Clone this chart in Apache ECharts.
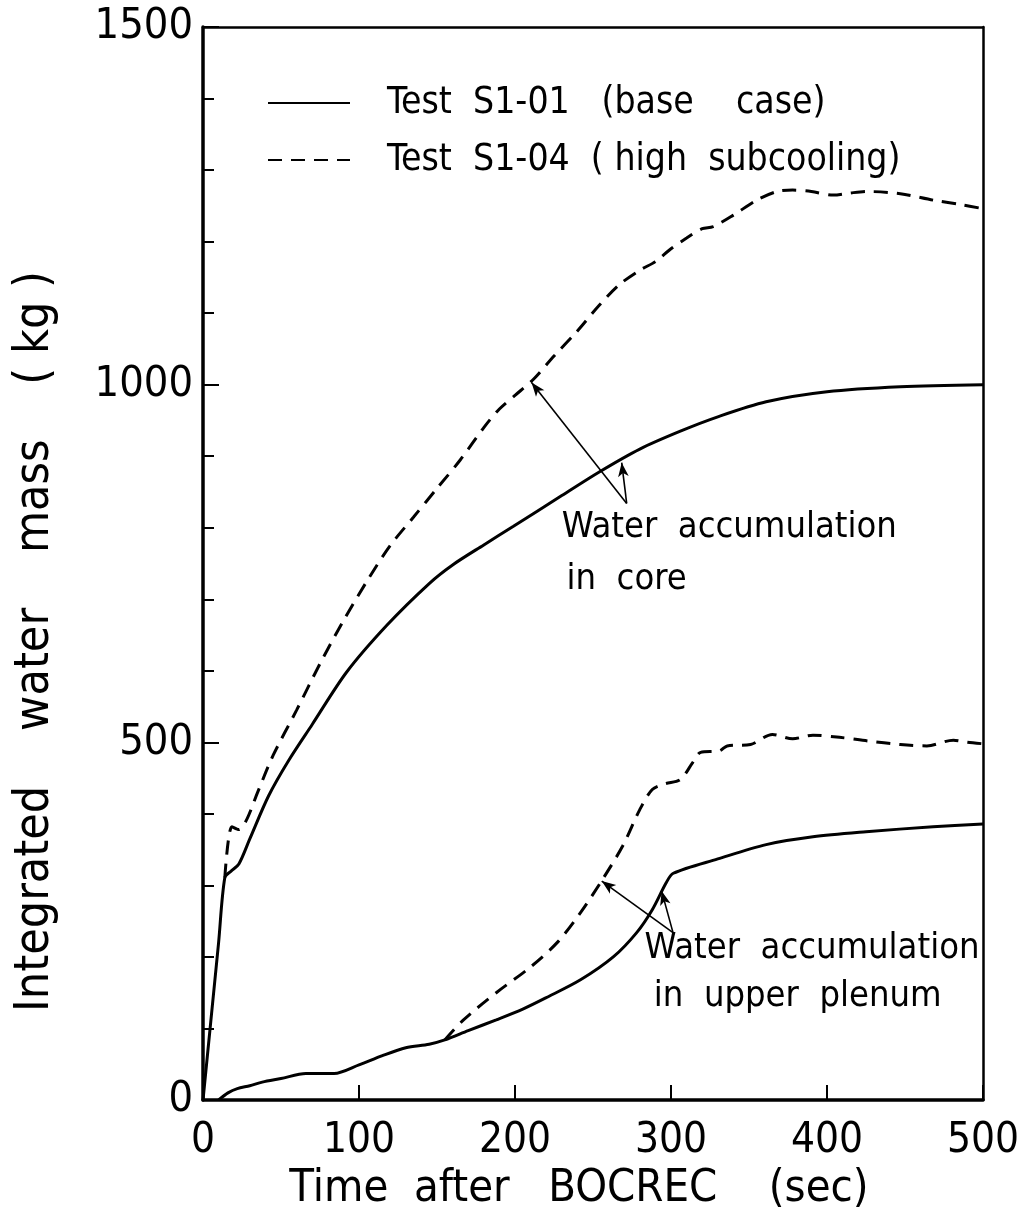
<!DOCTYPE html>
<html><head><meta charset="utf-8">
<script src="https://cdn.jsdelivr.net/npm/echarts@6/dist/echarts.min.js"></script>
<style>html,body{margin:0;padding:0;background:#fff}#c{width:1032px;height:1221px}</style>
</head><body><div id="c"></div>
<script>
const FONT = "'DejaVu Sans Condensed','Liberation Sans Narrow','DejaVu Sans',sans-serif";
const xTicks = [0, 100, 200, 300, 400, 500];
const yTicks = [0, 500, 1000, 1500];

const nameBase = 'Test  S1-01   (base    case)';
const nameSub = 'Test  S1-04  ( high  subcooling)';

const coreBaseT = [0, 5, 10, 14, 18, 23, 30, 42, 55, 70, 92, 118, 145, 160, 180, 199, 230, 254, 280, 306, 330, 361, 400, 447, 500];
const coreBaseM = [0, 110, 220, 311, 320, 330, 365, 425, 475, 525, 598, 664, 722, 748, 776, 802, 845, 878, 910, 935, 955, 976, 990, 997, 1000];

const coreSubT = [14, 18.5, 23, 28, 35, 45, 60, 75, 90, 105, 120, 135, 150, 165, 180, 190, 200, 212, 225, 240, 254, 267, 280, 290, 300, 310, 320, 327, 340, 355, 368, 378, 390, 404, 415, 426, 447, 468, 485, 500];
const coreSubM = [311, 382, 378, 392, 430, 482, 545, 610, 670, 725, 775, 815, 855, 895, 940, 966, 985, 1008, 1040, 1075, 1111, 1140, 1160, 1172, 1190, 1205, 1218, 1221, 1237, 1258, 1270, 1272, 1270, 1265, 1268, 1270, 1267, 1258, 1252, 1246];

const plenBaseT = [10, 16, 22, 30, 38, 50, 66, 84, 100, 115, 130, 145, 155, 170, 188, 205, 220, 242, 263, 278, 288, 297, 301.5, 330, 361, 391, 425, 468, 500];
const plenBaseM = [0, 10, 16, 20, 25, 30, 37, 37, 49, 62, 73, 78, 84, 97, 112, 127, 143, 168, 200, 234, 266, 304, 317, 337, 357, 368, 375, 382, 386];

const plenSubT = [155, 167, 188, 210, 227, 242, 256, 269, 280, 288, 296, 306, 314, 319, 331, 336, 351, 365, 378, 391, 408, 426, 447, 464, 481, 490, 500];
const plenSubM = [84, 112, 150, 186, 220, 262, 308, 355, 406, 434, 442, 448, 472, 486, 488, 495, 497, 511, 505, 510, 507, 502, 497, 495, 503, 500, 498];

// annotation arrows: [start(t,m), end(t,m)]
const arrowCore = [[[271.6, 834], [210.6, 1003]], [[271.6, 834], [268.4, 891]]];
const arrowPlen = [[[301.3, 234], [255.6, 306]], [[301.3, 234], [294, 292]]];
// annotation labels: [t, m, text]
const notes = [
  [230, 800, 'Water  accumulation'],
  [233, 728, 'in  core'],
  [283, 211, 'Water  accumulation'],
  [289, 144, 'in  upper  plenum']
];

const zip = (a, b) => a.map((v, i) => [v, b[i]]);
const black = '#000';

const chart = echarts.init(document.getElementById('c'), null, {renderer: 'canvas'});
const arrowLines = arrowCore.concat(arrowPlen).map(p => [{coord: p[0]}, {coord: p[1]}]);

chart.setOption({
  animation: false,
  backgroundColor: '#fff',
  grid: {left: 203, right: 49, top: 27, bottom: 121, containLabel: false},
  legend: {
    orient: 'vertical', left: 262, top: 76, itemWidth: 82, itemHeight: 14, itemGap: 13,
    data: [nameBase, nameSub],
    itemStyle: {opacity: 0},
    textStyle: {fontFamily: FONT, fontSize: 37, color: black, lineHeight: 44, padding: [0, 0, 0, 32]},
    selectedMode: false
  },
  xAxis: [{
    type: 'value', min: 0, max: 500, interval: 100,
    name: 'Time  after   BOCREC    (sec)', nameLocation: 'middle', nameGap: 64,
    nameTextStyle: {fontFamily: FONT, fontSize: 45, color: black, padding: [0, 28, 0, 0]},
    axisLine: {show: true, onZero: false, lineStyle: {color: black, width: 3.5}},
    axisTick: {show: true, inside: true, length: 15, lineStyle: {color: black, width: 2}},
    axisLabel: {fontFamily: FONT, fontSize: 42, color: black, margin: 20,
      formatter: v => xTicks.includes(v) ? String(v) : ''},
    splitLine: {show: false}
  }, {
    type: 'value', min: 0, max: 500, position: 'top',
    axisLine: {show: true, onZero: false, lineStyle: {color: black, width: 2.5}},
    axisTick: {show: false}, axisLabel: {show: false}, splitLine: {show: false}
  }],
  yAxis: [{
    type: 'value', min: 0, max: 1500, interval: 500,
    name: 'Integrated    water    mass    ( kg )', nameLocation: 'middle', nameGap: 143,
    nameTextStyle: {fontFamily: FONT, fontSize: 48, color: black, padding: [0, 156, 0, 0]},
    axisLine: {show: true, onZero: false, lineStyle: {color: black, width: 3.5}},
    axisTick: {show: true, inside: true, length: 16, lineStyle: {color: black, width: 2}},
    minorTick: {show: true, splitNumber: 5, length: 11, lineStyle: {color: black, width: 2}},
    axisLabel: {fontFamily: FONT, fontSize: 43, color: black, margin: 10,
      formatter: v => yTicks.includes(v) ? String(v) : ''},
    splitLine: {show: false}
  }, {
    type: 'value', min: 0, max: 1500, position: 'right',
    axisLine: {show: true, onZero: false, lineStyle: {color: black, width: 2.5}},
    axisTick: {show: false}, axisLabel: {show: false}, splitLine: {show: false}
  }],
  series: [
    {name: nameBase, type: 'line', data: zip(coreBaseT, coreBaseM), symbol: 'none', smooth: 0.3,
     lineStyle: {color: black, width: 3}, itemStyle: {color: black}, silent: true,
     markLine: {silent: true, symbol: ['none', 'arrow'], symbolSize: [8, 14],
       lineStyle: {color: black, width: 1.6, type: 'solid'}, label: {show: false},
       data: arrowLines},
     markPoint: {silent: true, symbol: 'circle', symbolSize: 0,
       label: {show: true, position: 'right', distance: 0, fontFamily: FONT, fontSize: 36, color: black,
         formatter: p => p.name},
       data: notes.map(n => ({name: n[2], coord: [n[0], n[1]]}))}
    },
    {name: nameBase, type: 'line', data: zip(plenBaseT, plenBaseM), symbol: 'none', smooth: 0.3,
     lineStyle: {color: black, width: 3}, itemStyle: {color: black}, silent: true},
    {name: nameSub, type: 'line', data: zip(coreSubT, coreSubM), symbol: 'none', smooth: 0.3,
     lineStyle: {color: black, width: 3, type: [14, 9]}, itemStyle: {color: black}, silent: true},
    {name: nameSub, type: 'line', data: zip(plenSubT, plenSubM), symbol: 'none', smooth: 0.3,
     lineStyle: {color: black, width: 3, type: [14, 9]}, itemStyle: {color: black}, silent: true}
  ]
});
</script></body></html>
